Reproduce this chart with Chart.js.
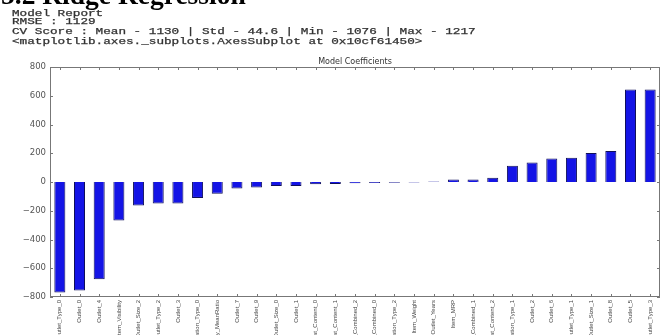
<!DOCTYPE html>
<html>
<head>
<meta charset="utf-8">
<script src="https://cdn.jsdelivr.net/npm/chart.js@4"></script>
<style>
  html, body { margin: 0; padding: 0; background: #fff; overflow: hidden; }
  #wrap { position: relative; width: 668px; height: 335px; }
  #c { position: absolute; left: 0; top: 0; }
  .h { position: absolute; left: 1px; top: -19px; font: bold 27.5px "Liberation Serif", serif; color: #000; white-space: nowrap; line-height: 27px; }
  .m { position: absolute; left: 12px; font: 8.5px "Liberation Mono", monospace; color: #333; white-space: nowrap; transform-origin: 0 0; transform: scaleX(1.49); line-height: 9px; -webkit-text-stroke: 0.25px #333; }
</style>
</head>
<body>
<div id="wrap">
  <canvas id="c" width="668" height="335"></canvas>
  <div class="h">5.2 Ridge Regression</div>
  <div class="m" style="top:10px">Model Report</div>
  <div class="m" style="top:18px">RMSE : 1129</div>
  <div class="m" style="top:28px">CV Score : Mean - 1130 | Std - 44.6 | Min - 1076 | Max - 1217</div>
  <div class="m" style="top:38px">&lt;matplotlib.axes._subplots.AxesSubplot at 0x10cf61450&gt;</div>
</div>
<script>
const categories = [
  "Outlet_Type_0", "Outlet_0", "Outlet_4", "Item_Visibility", "Outlet_Size_2",
  "Outlet_Type_2", "Outlet_3", "Outlet_Location_Type_0", "Item_Visibility_MeanRatio", "Outlet_7",
  "Outlet_9", "Outlet_Size_0", "Outlet_1", "Item_Fat_Content_0", "Item_Fat_Content_1",
  "Item_Type_Combined_2", "Item_Type_Combined_0", "Outlet_Location_Type_2", "Item_Weight", "Outlet_Years",
  "Item_MRP", "Item_Type_Combined_1", "Item_Fat_Content_2", "Outlet_Location_Type_1", "Outlet_2",
  "Outlet_6", "Outlet_Type_1", "Outlet_Size_1", "Outlet_8", "Outlet_5", "Outlet_Type_3"
];
const coefficients = [
  -769, -755, -677, -268, -164,
  -150, -150, -111, -81, -46,
  -39, -28, -28, -16, -14,
  -9, -7, -5, -3, 3,
  18, 18, 30, 113, 136,
  164, 169, 201, 215, 644, 644
];
const yTicks = [-800, -600, -400, -200, 0, 200, 400, 600, 800];
const chartTitle = "Model Coefficients";

const frame = {
  id: 'frame',
  afterDatasetsDraw(chart) {
    const { ctx, chartArea: a, scales } = chart;
    ctx.save();
    ctx.strokeStyle = '#777';
    ctx.lineWidth = 1;
    ctx.strokeRect(a.left + 0.5, a.top + 0.5, a.right - a.left - 1, a.bottom - a.top - 1);
    ctx.beginPath();
    categories.forEach((c, i) => {
      const x = Math.round(scales.x.getPixelForValue(i)) + 0.5;
      ctx.moveTo(x, a.top); ctx.lineTo(x, a.top + 3);
      ctx.moveTo(x, a.bottom); ctx.lineTo(x, a.bottom - 3);
    });
    yTicks.forEach(v => {
      const y = Math.round(scales.y.getPixelForValue(v)) + 0.5;
      ctx.moveTo(a.left, y); ctx.lineTo(a.left + 3, y);
      ctx.moveTo(a.right, y); ctx.lineTo(a.right - 3, y);
    });
    ctx.stroke();
    ctx.fillStyle = '#333';
    ctx.font = '8px "DejaVu Sans", sans-serif';
    ctx.textAlign = 'center';
    ctx.textBaseline = 'alphabetic';
    ctx.fillText(chartTitle, (a.left + a.right) / 2, a.top - 3);
    ctx.restore();
  }
};

new Chart(document.getElementById('c'), {
  type: 'bar',
  data: {
    labels: categories,
    datasets: [{
      data: coefficients,
      backgroundColor: '#1414e6',
      borderColor: '#10105a',
      borderWidth: 1,
      barPercentage: 0.56,
      categoryPercentage: 1.0
    }]
  },
  options: {
    responsive: false,
    animation: false,
    devicePixelRatio: 1,
    layout: { padding: { top: 67, right: 8, left: 0, bottom: 0 } },
    plugins: { legend: { display: false }, title: { display: false }, tooltip: { enabled: false } },
    scales: {
      x: {
        offset: true,
        grid: { display: false, drawTicks: false },
        border: { display: false },
        ticks: {
          autoSkip: false, maxRotation: 90, minRotation: 90, padding: 3,
          color: '#444', font: { size: 6, family: '"Liberation Sans Narrow", "Liberation Sans", sans-serif' }
        },
        afterFit(s) { s.height = 38; }
      },
      y: {
        min: -800, max: 800,
        grid: { display: false, drawTicks: false },
        border: { display: false },
        afterBuildTicks(s) { s.ticks = yTicks.map(v => ({ value: v })); },
        ticks: {
          padding: 4, color: '#555',
          font: { size: 8.5, family: '"DejaVu Sans", sans-serif' },
          callback: v => (v < 0 ? '\u2212' + Math.abs(v) : String(v))
        },
        afterFit(s) { s.width = 50; }
      }
    }
  },
  plugins: [frame]
});
</script>
</body>
</html>
